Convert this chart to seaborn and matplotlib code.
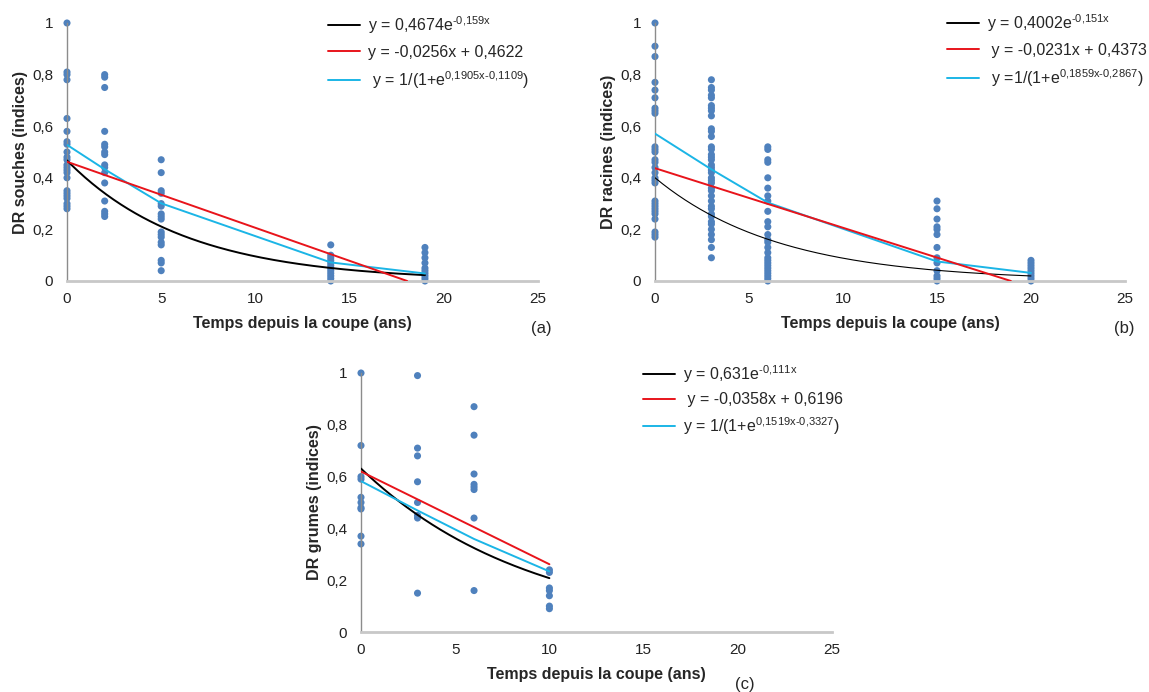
import numpy as np
import pandas as pd
import matplotlib
matplotlib.use("Agg")
import matplotlib.pyplot as plt
import seaborn as sns
from matplotlib.lines import Line2D

sns.set_theme(style="white")
plt.rcParams['font.family'] = ['Liberation Sans', 'DejaVu Sans']
plt.rcParams['mathtext.fontset'] = 'custom'
plt.rcParams['mathtext.rm'] = 'Liberation Sans'
plt.rcParams['mathtext.default'] = 'regular'

# ---------------- data ----------------
# (a) souches
a_x0 = [1.00, 0.81, 0.80, 0.78, 0.63, 0.58, 0.54, 0.53, 0.50, 0.48, 0.47, 0.45, 0.44, 0.43,
        0.42, 0.40, 0.35, 0.34, 0.33, 0.32, 0.30, 0.29, 0.28]
a_x2 = [0.80, 0.79, 0.75, 0.58, 0.53, 0.52, 0.50, 0.49, 0.45, 0.44, 0.42, 0.38, 0.31, 0.27, 0.26, 0.25]
a_x5 = [0.47, 0.42, 0.35, 0.34, 0.30, 0.29, 0.26, 0.25, 0.24, 0.19, 0.18, 0.17, 0.15, 0.14, 0.08, 0.07, 0.04]
a_x14 = [0.14, 0.10, 0.09, 0.08, 0.07, 0.06, 0.05, 0.04, 0.03, 0.02, 0.01, 0.00]
a_x19 = [0.13, 0.11, 0.09, 0.07, 0.05, 0.04, 0.03, 0.02, 0.01, 0.00]
a_times = [0, 2, 5, 14, 19]
a_vals = [a_x0, a_x2, a_x5, a_x14, a_x19]
a_coef = dict(exp=(0.4674, -0.159), lin=(-0.0256, 0.4622), log=(0.1905, -0.1109))
a_labels = [r'y = 0,4674e$^{‐0{,}159x}$', 'y = -0,0256x + 0,4622',
            r' y = 1/(1+e$^{0{,}1905x‐0{,}1109}$)']

# (b) racines
b_x0 = [1.00, 0.91, 0.87, 0.77, 0.74, 0.71, 0.67, 0.66, 0.65, 0.52, 0.51, 0.50, 0.47, 0.46,
        0.44, 0.42, 0.40, 0.39, 0.38, 0.31, 0.30, 0.29, 0.28, 0.27, 0.26, 0.24, 0.19, 0.18, 0.17]
b_x3 = [0.78, 0.75, 0.74, 0.72, 0.71, 0.68, 0.67, 0.66, 0.64, 0.59, 0.58, 0.56, 0.52, 0.51,
        0.49, 0.48, 0.47, 0.45, 0.44, 0.43, 0.42, 0.40, 0.39, 0.38, 0.36, 0.35, 0.33, 0.31,
        0.29, 0.28, 0.26, 0.25, 0.23, 0.22, 0.20, 0.18, 0.16, 0.13, 0.09]
b_x6 = [0.52, 0.51, 0.47, 0.46, 0.40, 0.36, 0.33, 0.31, 0.27, 0.23, 0.21, 0.18, 0.16, 0.15,
        0.13, 0.11, 0.09, 0.08, 0.07, 0.06, 0.05, 0.04, 0.03, 0.02, 0.01, 0.00]
b_x15 = [0.31, 0.28, 0.24, 0.21, 0.20, 0.18, 0.13, 0.09, 0.07, 0.04, 0.02, 0.01, 0.00]
b_x20 = [0.08, 0.07, 0.06, 0.05, 0.04, 0.03, 0.02, 0.01, 0.00]
b_times = [0, 3, 6, 15, 20]
b_vals = [b_x0, b_x3, b_x6, b_x15, b_x20]
b_coef = dict(exp=(0.4002, -0.151), lin=(-0.0231, 0.4373), log=(0.1859, -0.2867))
b_labels = [r'y = 0,4002e$^{‐0{,}151x}$', ' y = -0,0231x + 0,4373',
            r' y =1/(1+e$^{0{,}1859x‐0{,}2867}$)']

# (c) grumes
c_x0 = [1.00, 0.72, 0.60, 0.59, 0.52, 0.50, 0.48, 0.475, 0.37, 0.34]
c_x3 = [0.99, 0.71, 0.68, 0.58, 0.50, 0.45, 0.44, 0.15]
c_x6 = [0.87, 0.76, 0.61, 0.57, 0.56, 0.55, 0.44, 0.16]
c_x10 = [0.24, 0.23, 0.17, 0.16, 0.14, 0.10, 0.09]
c_times = [0, 3, 6, 10]
c_vals = [c_x0, c_x3, c_x6, c_x10]
c_coef = dict(exp=(0.631, -0.111), lin=(-0.0358, 0.6196), log=(0.1519, -0.3327))
c_labels = [r'y = 0,631e$^{‐0{,}111x}$', ' y = -0,0358x + 0,6196',
            r'y = 1/(1+e$^{0{,}1519x‐0{,}3327}$)']

x_ticks = [0, 5, 10, 15, 20, 25]
y_ticks = [0, 0.2, 0.4, 0.6, 0.8, 1.0]
y_ticklabels = ['0', '0,2', '0,4', '0,6', '0,8', '1']

PT_COLOR = '#4F81BD'
C_EXP, C_LIN, C_LOG = '#000000', '#E8141B', '#1BB5E6'

W, H = 1149, 692
fig = plt.figure(figsize=(W / 100, H / 100), dpi=100)


def px_axes(left, top, right, bottom):
    return fig.add_axes([left / W, 1 - bottom / H, (right - left) / W, (bottom - top) / H])


def panel(ax, times, vals, coef, labels, ylabel, exp_lw, leg_pos, leg_space, tag, tag_pos):
    df = pd.DataFrame({'t': np.concatenate([[t] * len(v) for t, v in zip(times, vals)]),
                       'v': np.concatenate(vals)})
    sns.scatterplot(data=df, x='t', y='v', ax=ax, color=PT_COLOR, s=26, edgecolor='none',
                    zorder=2, clip_on=False)
    tmax = max(times)
    xs = np.linspace(0, tmax, 200)
    a, b = coef['exp']
    sns.lineplot(x=xs, y=a * np.exp(b * xs), ax=ax, color=C_EXP, lw=exp_lw, estimator=None, zorder=3)
    m, c = coef['lin']
    xend = min(tmax, -c / m)
    xl = np.array([0, xend])
    sns.lineplot(x=xl, y=m * xl + c, ax=ax, color=C_LIN, lw=1.4, estimator=None, zorder=4)
    p, q = coef['log']
    xt = np.array(times, dtype=float)
    sns.lineplot(x=xt, y=1 / (1 + np.exp(p * xt + q)), ax=ax, color=C_LOG, lw=1.4, estimator=None, zorder=3)

    ax.set_xlim(0, 25)
    ax.set_ylim(0, 1)
    ax.set_xticks(x_ticks)
    ax.set_xticklabels([str(t) for t in x_ticks], fontsize=11, color='#222222')
    ax.set_yticks(y_ticks)
    ax.set_yticklabels(y_ticklabels, fontsize=11, color='#222222')
    ax.tick_params(axis='both', length=0)
    ax.tick_params(axis='x', pad=8)
    ax.tick_params(axis='y', pad=10)
    ax.set_xlabel('Temps depuis la coupe (ans)', fontsize=11.5, fontweight='bold', labelpad=7)
    ax.set_ylabel(ylabel, fontsize=11.5, fontweight='bold', labelpad=3)
    for s in ['top', 'right']:
        ax.spines[s].set_visible(False)
    ax.spines['left'].set_color('#8C8C8C')
    ax.spines['left'].set_linewidth(1.0)
    ax.spines['bottom'].set_color('#C8C8C8')
    ax.spines['bottom'].set_linewidth(2.0)
    ax.set_facecolor('none')

    handles = [Line2D([], [], color=C_EXP, lw=1.4), Line2D([], [], color=C_LIN, lw=1.4),
               Line2D([], [], color=C_LOG, lw=1.4)]
    ax.legend(handles, labels, loc='upper left', bbox_to_anchor=(leg_pos[0] / W, 1 - leg_pos[1] / H),
              bbox_transform=fig.transFigure, frameon=False, fontsize=11.5, handlelength=2.0,
              handletextpad=0.5, labelspacing=leg_space, borderaxespad=0, borderpad=0)
    fig.text(tag_pos[0] / W, 1 - tag_pos[1] / H, tag, fontsize=12, ha='center', va='center')


ax_a = px_axes(67, 23, 538, 281)
panel(ax_a, a_times, a_vals, a_coef, a_labels, 'DR souches (indices)', 1.4, (328, 14), 0.58,
      '(a)', (541, 328))

ax_b = px_axes(655, 23, 1125, 281)
panel(ax_b, b_times, b_vals, b_coef, b_labels, 'DR racines (indices)', 0.8, (947, 12), 0.58,
      '(b)', (1124, 328))

ax_c = px_axes(361, 373, 832, 632)
panel(ax_c, c_times, c_vals, c_coef, c_labels, 'DR grumes (indices)', 1.4, (643, 363), 0.48,
      '(c)', (745, 684))

fig.savefig('out.png', dpi=100)
